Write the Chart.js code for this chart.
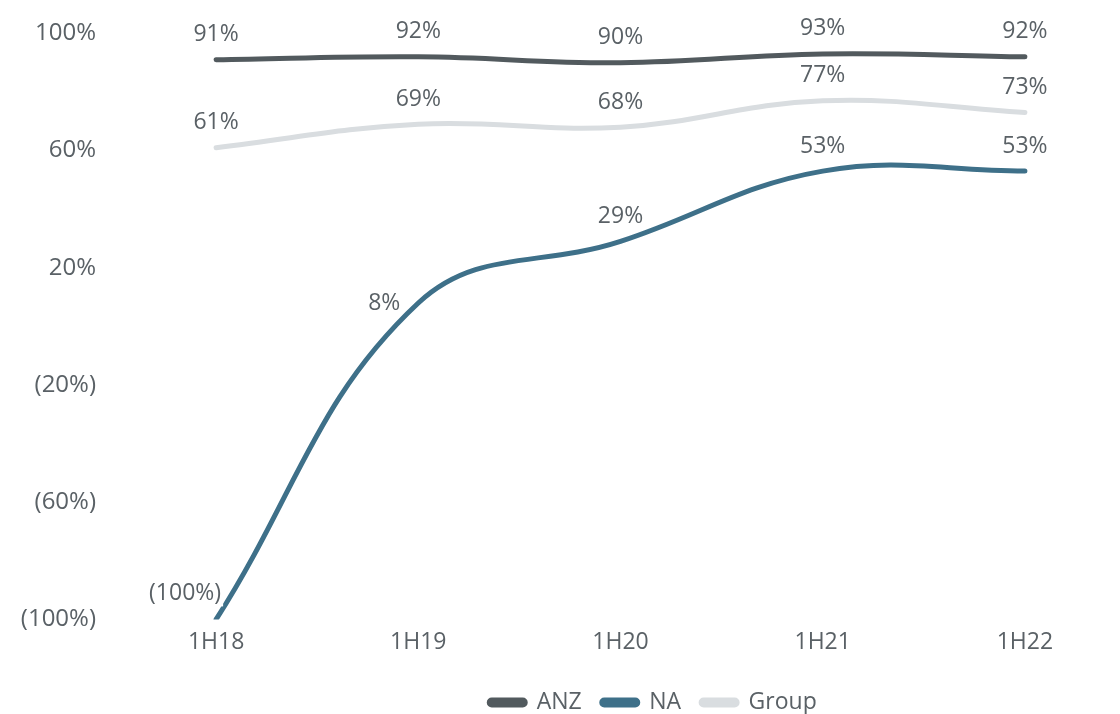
<!DOCTYPE html>
<html>
<head>
<meta charset="utf-8">
<script src="https://cdn.jsdelivr.net/npm/chart.js@4.4.0/dist/chart.umd.min.js"></script>
<style>
  html, body { margin: 0; padding: 0; background: #ffffff; overflow: hidden; }
  #wrap { width: 1126px; height: 714px; position: relative; }
</style>
</head>
<body>
<div id="wrap"><canvas id="grafica"></canvas></div>
<script>
const periodos = ['1H18', '1H19', '1H20', '1H21', '1H22'];
const anz = [91, 92, 90, 93, 92];
const na = [-100, 8, 29, 53, 53];
const grupo = [61, 69, 68, 77, 73];
const ticksY = [100, 60, 20, -20, -60, -100];

const colorTexto = '#5a6166';
const fuente = "'Open Sans', sans-serif";

function fmt(v) {
  return v < 0 ? '(' + Math.abs(v) + '%)' : v + '%';
}

// ajustes manuales de etiquetas (dataset, indice)
const ajustes = {
  '1-0': { dx: -31, dy: -26, fondo: true },
  '1-1': { dx: -34, dy: 0 }
};

const etiquetas = {
  id: 'etiquetas',
  afterDatasetsDraw(chart) {
    const ctx = chart.ctx;
    ctx.save();
    ctx.font = '23px ' + fuente;
    ctx.textAlign = 'center';
    ctx.textBaseline = 'middle';
    chart.data.datasets.forEach((ds, i) => {
      chart.getDatasetMeta(i).data.forEach((pt, j) => {
        const a = ajustes[i + '-' + j] || { dx: 0, dy: -25 };
        const txt = fmt(ds.data[j]);
        const x = pt.x + a.dx, y = pt.y + a.dy;
        if (a.fondo) {
          const w = ctx.measureText(txt).width;
          ctx.fillStyle = '#ffffff';
          ctx.fillRect(x - w / 2 - 2, y - 13, w + 4, 26);
        }
        ctx.fillStyle = colorTexto;
        ctx.fillText(txt, x, y);
      });
    });
    ctx.restore();
  }
};

// mover la leyenda como en la original
const moverLeyenda = {
  id: 'moverLeyenda',
  afterLayout(chart) {
    if (chart.legend) {
      chart.legend.left += 90;
      chart.legend.right += 90;
      chart.legend.top += 14;
      chart.legend.bottom += 14;
    }
  }
};

function serie(label, data, color) {
  return {
    label: label,
    data: data,
    borderColor: color,
    backgroundColor: color,
    borderWidth: 5,
    borderCapStyle: 'round',
    tension: 0.4,
    pointRadius: 0,
    fill: false
  };
}

const ctx = document.getElementById('grafica').getContext('2d');
new Chart(ctx, {
  type: 'line',
  data: {
    labels: periodos,
    datasets: [
      serie('ANZ', anz, '#525a5e'),
      serie('NA', na, '#3e7089'),
      serie('Group', grupo, '#d9dde0')
    ]
  },
  options: {
    responsive: true,
    maintainAspectRatio: false,
    animation: false,
    layout: { padding: { top: 17, left: 0, right: 0, bottom: 4 } },
    scales: {
      x: {
        offset: true,
        grid: { display: false },
        border: { display: false },
        ticks: { color: colorTexto, font: { family: fuente, size: 23 }, padding: 1 }
      },
      y: {
        min: -100,
        max: 100,
        afterFit: s => { s.width = 115; },
        afterBuildTicks: s => { s.ticks = ticksY.map(v => ({ value: v })); },
        grid: {
          color: c => c.tick && c.tick.value === 0 ? '#d8dcdf' : 'rgba(0,0,0,0)',
          lineWidth: 1.5,
          drawTicks: false
        },
        border: { display: false },
        ticks: {
          color: colorTexto,
          font: { family: fuente, size: 24 },
          padding: 19,
          callback: v => fmt(v)
        }
      }
    },
    plugins: {
      legend: {
        position: 'bottom',
        labels: {
          color: colorTexto,
          font: { family: fuente, size: 23 },
          boxWidth: 36,
          boxHeight: 5,
          useBorderRadius: true,
          borderRadius: 2.5,
          padding: 20
        }
      },
      tooltip: { enabled: false }
    }
  },
  plugins: [etiquetas, moverLeyenda]
});
</script>
</body>
</html>
